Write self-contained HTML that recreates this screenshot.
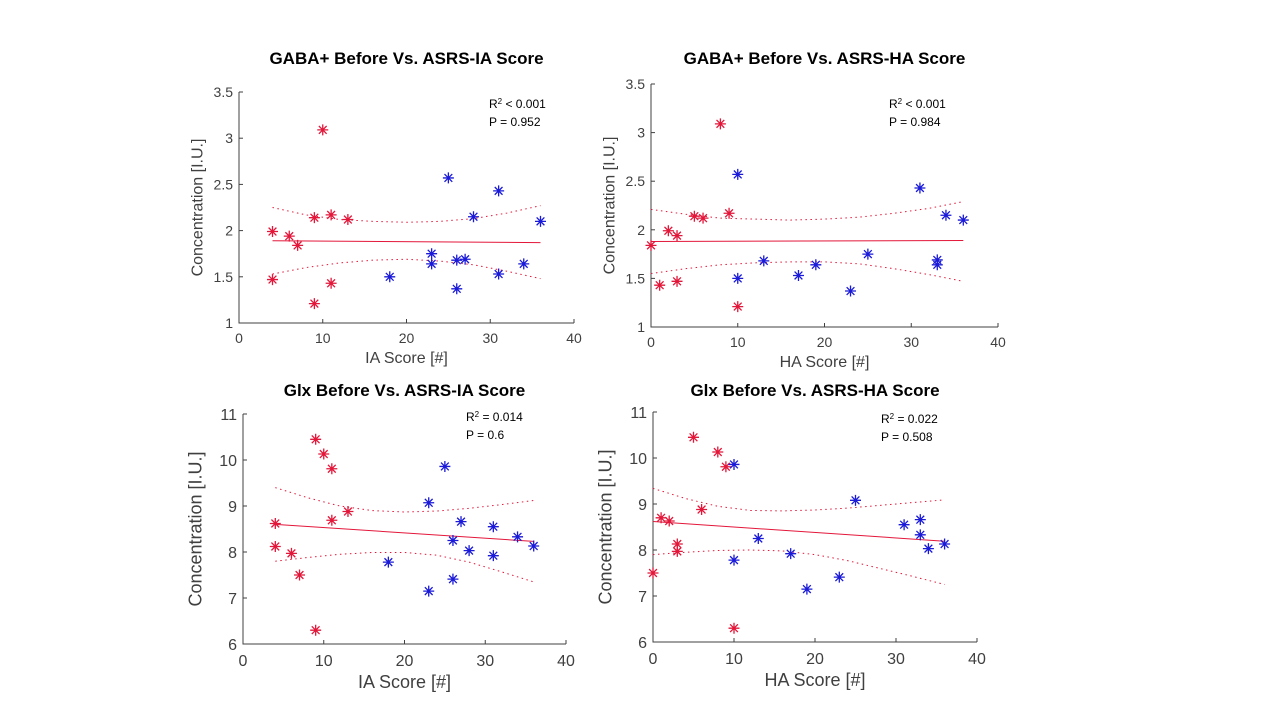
<!DOCTYPE html>
<html><head><meta charset="utf-8"><style>
html,body{margin:0;padding:0;background:#fff;}
svg{display:block;}
</style></head><body>
<svg id="fig" width="1280" height="720" viewBox="0 0 1280 720" xmlns="http://www.w3.org/2000/svg"></svg>
<script>
// ---- Panel 1: GABA+ vs IA ----
const p1RedX=[4,6,7,4,9,9,10,11,11,13];
const p1RedY=[1.99,1.94,1.84,1.47,1.21,2.14,3.09,2.17,1.43,2.12];
const p1BlueX=[18,23,23,25,26,26,27,28,31,31,34,36];
const p1BlueY=[1.5,1.75,1.64,2.57,1.68,1.37,1.69,2.15,2.43,1.53,1.64,2.1];
const p1FitX=[4,36]; const p1FitY=[1.89,1.87];
const p1CiX=[4,8,12,16,20,24,28,32,36];
const p1CiUp=[2.25,2.17,2.12,2.10,2.09,2.10,2.13,2.19,2.27];
const p1CiLo=[1.53,1.60,1.65,1.68,1.69,1.67,1.63,1.56,1.48];
// ---- Panel 2: GABA+ vs HA ----
const p2RedX=[0,1,2,3,3,5,6,8,9,10];
const p2RedY=[1.84,1.43,1.99,1.94,1.47,2.14,2.12,3.09,2.17,1.21];
const p2BlueX=[10,10,13,17,19,23,25,31,33,33,34,36];
const p2BlueY=[2.57,1.5,1.68,1.53,1.64,1.37,1.75,2.43,1.69,1.64,2.15,2.1];
const p2FitX=[0,36]; const p2FitY=[1.88,1.89];
const p2CiX=[0,4,8,12,16,20,24,28,32,36];
const p2CiUp=[2.21,2.16,2.12,2.11,2.10,2.11,2.13,2.17,2.22,2.29];
const p2CiLo=[1.55,1.60,1.64,1.66,1.67,1.67,1.65,1.60,1.54,1.47];
// ---- Panel 3: Glx vs IA ----
const p3RedX=[4,4,6,7,9,9,10,11,11,13];
const p3RedY=[8.62,8.12,7.97,7.5,10.45,6.3,10.13,9.81,8.69,8.88];
const p3BlueX=[18,23,23,25,26,26,27,28,31,31,34,36];
const p3BlueY=[7.78,9.07,7.15,9.86,8.25,7.41,8.66,8.03,8.55,7.92,8.33,8.13];
const p3FitX=[4,36]; const p3FitY=[8.6,8.23];
const p3CiX=[4,8,12,16,20,24,28,32,36];
const p3CiUp=[9.4,9.18,9.0,8.9,8.87,8.89,8.95,9.03,9.12];
const p3CiLo=[7.8,7.88,7.95,7.99,7.99,7.93,7.78,7.57,7.35];
// ---- Panel 4: Glx vs HA ----
const p4RedX=[0,1,2,3,3,5,6,8,9,10];
const p4RedY=[7.5,8.7,8.63,8.13,7.97,10.45,8.88,10.13,9.81,6.3];
const p4BlueX=[10,10,13,17,19,23,25,31,33,33,34,36];
const p4BlueY=[9.86,7.78,8.25,7.92,7.15,7.41,9.08,8.55,8.66,8.33,8.03,8.13];
const p4FitX=[0,36]; const p4FitY=[8.62,8.19];
const p4CiX=[0,4,8,12,16,20,24,28,32,36];
const p4CiUp=[9.34,9.12,8.95,8.86,8.85,8.87,8.91,8.97,9.03,9.09];
const p4CiLo=[7.9,7.95,7.99,8.0,7.98,7.9,7.77,7.6,7.43,7.25];
const xTicks=[0,10,20,30,40];
const yTicksTop=[1,1.5,2,2.5,3,3.5];
const yTicksBot=[6,7,8,9,10,11];

const NS='http://www.w3.org/2000/svg';
const fig=document.getElementById('fig');
function mk(tag,attrs,parent){const e=document.createElementNS(NS,tag);for(const k in attrs)e.setAttribute(k,attrs[k]);(parent||fig).appendChild(e);return e;}
const RED='#e3173a', BLUE='#1a1ad8', AX='#404040';

function panel(id,box,yMin,yMax,yTicks,redX,redY,blueX,blueY,fitX,fitY,ciX,ciUp,ciLo,title,xlab,r2,pv,fs,titleY,annX,annY){
  const g=mk('g',{});
  
  
  const sx=v=>box.x0+(v-0)/(40-0)*(box.x1-box.x0);
  const sy=v=>box.y1-(v-yMin)/(yMax-yMin)*(box.y1-box.y0);
  const ax=mk('path',{d:`M${box.x0} ${box.y0}V${box.y1}H${box.x1}`,fill:'none',stroke:AX,'stroke-width':1},g);
  
  
  xTicks.forEach(t=>{
    mk('line',{x1:sx(t),x2:sx(t),y1:box.y1,y2:box.y1-4,stroke:AX},g);
    const tx=mk('text',{x:sx(t),y:box.y1+fs+6,'text-anchor':'middle','font-size':fs,fill:AX,'font-family':'Liberation Sans, sans-serif'},g);
    tx.textContent=t;
    
    
  });
  yTicks.forEach(t=>{
    mk('line',{x1:box.x0,x2:box.x0+4,y1:sy(t),y2:sy(t),stroke:AX},g);
    const tx=mk('text',{x:box.x0-6,y:sy(t)+fs*0.36,'text-anchor':'end','font-size':fs,fill:AX,'font-family':'Liberation Sans, sans-serif'},g);
    tx.textContent=t;
    
    
  });
  const pts=a=>ciX.map((x,i)=>`${sx(x)},${sy(a[i])}`).join(' ');
  const u=mk('polyline',{points:pts(ciUp),fill:'none',stroke:RED,'stroke-width':1,'stroke-dasharray':'1.5 3.5'},g);
  
  
  const l=mk('polyline',{points:pts(ciLo),fill:'none',stroke:RED,'stroke-width':1,'stroke-dasharray':'1.5 3.5'},g);
  
  
  const f=mk('line',{x1:sx(fitX[0]),y1:sy(fitY[0]),x2:sx(fitX[1]),y2:sy(fitY[1]),stroke:RED,'stroke-width':1},g);
  
  
  function star(x,y,c,name){
    const cx=sx(x),cy=sy(y),r=5.5,d=r*0.707;
    const p=mk('path',{d:`M${cx-r} ${cy}H${cx+r}M${cx} ${cy-r}V${cy+r}M${cx-d} ${cy-d}L${cx+d} ${cy+d}M${cx-d} ${cy+d}L${cx+d} ${cy-d}`,stroke:c,'stroke-width':1.3,fill:'none'},g);
    
    
  }
  redX.forEach((x,i)=>star(x,redY[i],RED,'red-point'));
  blueX.forEach((x,i)=>star(x,blueY[i],BLUE,'blue-point'));
  const t=mk('text',{x:(box.x0+box.x1)/2,y:titleY,'text-anchor':'middle','font-size':17,'font-weight':'bold',fill:'#000','font-family':'Liberation Sans, sans-serif'},g);
  t.textContent=title;
  
  
  const xl=mk('text',{x:(box.x0+box.x1)/2,y:box.y1+fs*2+12,'text-anchor':'middle','font-size':fs+2,fill:AX,'font-family':'Liberation Sans, sans-serif'},g);
  xl.textContent=xlab;
  
  
  const ycx=box.x0-fs*2.6, ycy=(box.y0+box.y1)/2;
  const yl=mk('text',{x:ycx,y:ycy,'text-anchor':'middle','font-size':fs+2,fill:AX,'font-family':'Liberation Sans, sans-serif',transform:`rotate(-90 ${ycx} ${ycy})`},g);
  yl.textContent='Concentration [I.U.]';
  
  
  const a1=mk('text',{x:annX,y:annY,'font-size':12,fill:'#000','font-family':'Liberation Sans, sans-serif'},g);
  a1.innerHTML='R<tspan font-size="8" dy="-4">2</tspan><tspan dy="4"> '+r2+'</tspan>';
  
  
  const a2=mk('text',{x:annX,y:annY+18,'font-size':12,fill:'#000','font-family':'Liberation Sans, sans-serif'},g);
  a2.textContent='P  = '+pv;
  
  
}
panel('panel-gaba-ia',{x0:239,x1:574,y0:92,y1:323},1,3.5,yTicksTop,p1RedX,p1RedY,p1BlueX,p1BlueY,p1FitX,p1FitY,p1CiX,p1CiUp,p1CiLo,'GABA+ Before Vs. ASRS-IA Score','IA Score [#]','< 0.001','0.952',14,64,489,108);
panel('panel-gaba-ha',{x0:651,x1:998,y0:84,y1:327},1,3.5,yTicksTop,p2RedX,p2RedY,p2BlueX,p2BlueY,p2FitX,p2FitY,p2CiX,p2CiUp,p2CiLo,'GABA+ Before Vs. ASRS-HA Score','HA Score [#]','< 0.001','0.984',14,64,889,108);
panel('panel-glx-ia',{x0:243,x1:566,y0:414,y1:644},6,11,yTicksBot,p3RedX,p3RedY,p3BlueX,p3BlueY,p3FitX,p3FitY,p3CiX,p3CiUp,p3CiLo,'Glx Before Vs. ASRS-IA Score','IA Score [#]','= 0.014','0.6',16,396,466,421);
panel('panel-glx-ha',{x0:653,x1:977,y0:412,y1:642},6,11,yTicksBot,p4RedX,p4RedY,p4BlueX,p4BlueY,p4FitX,p4FitY,p4CiX,p4CiUp,p4CiLo,'Glx Before Vs. ASRS-HA Score','HA Score [#]','= 0.022','0.508',16,396,881,423);
</script>
</body></html>
